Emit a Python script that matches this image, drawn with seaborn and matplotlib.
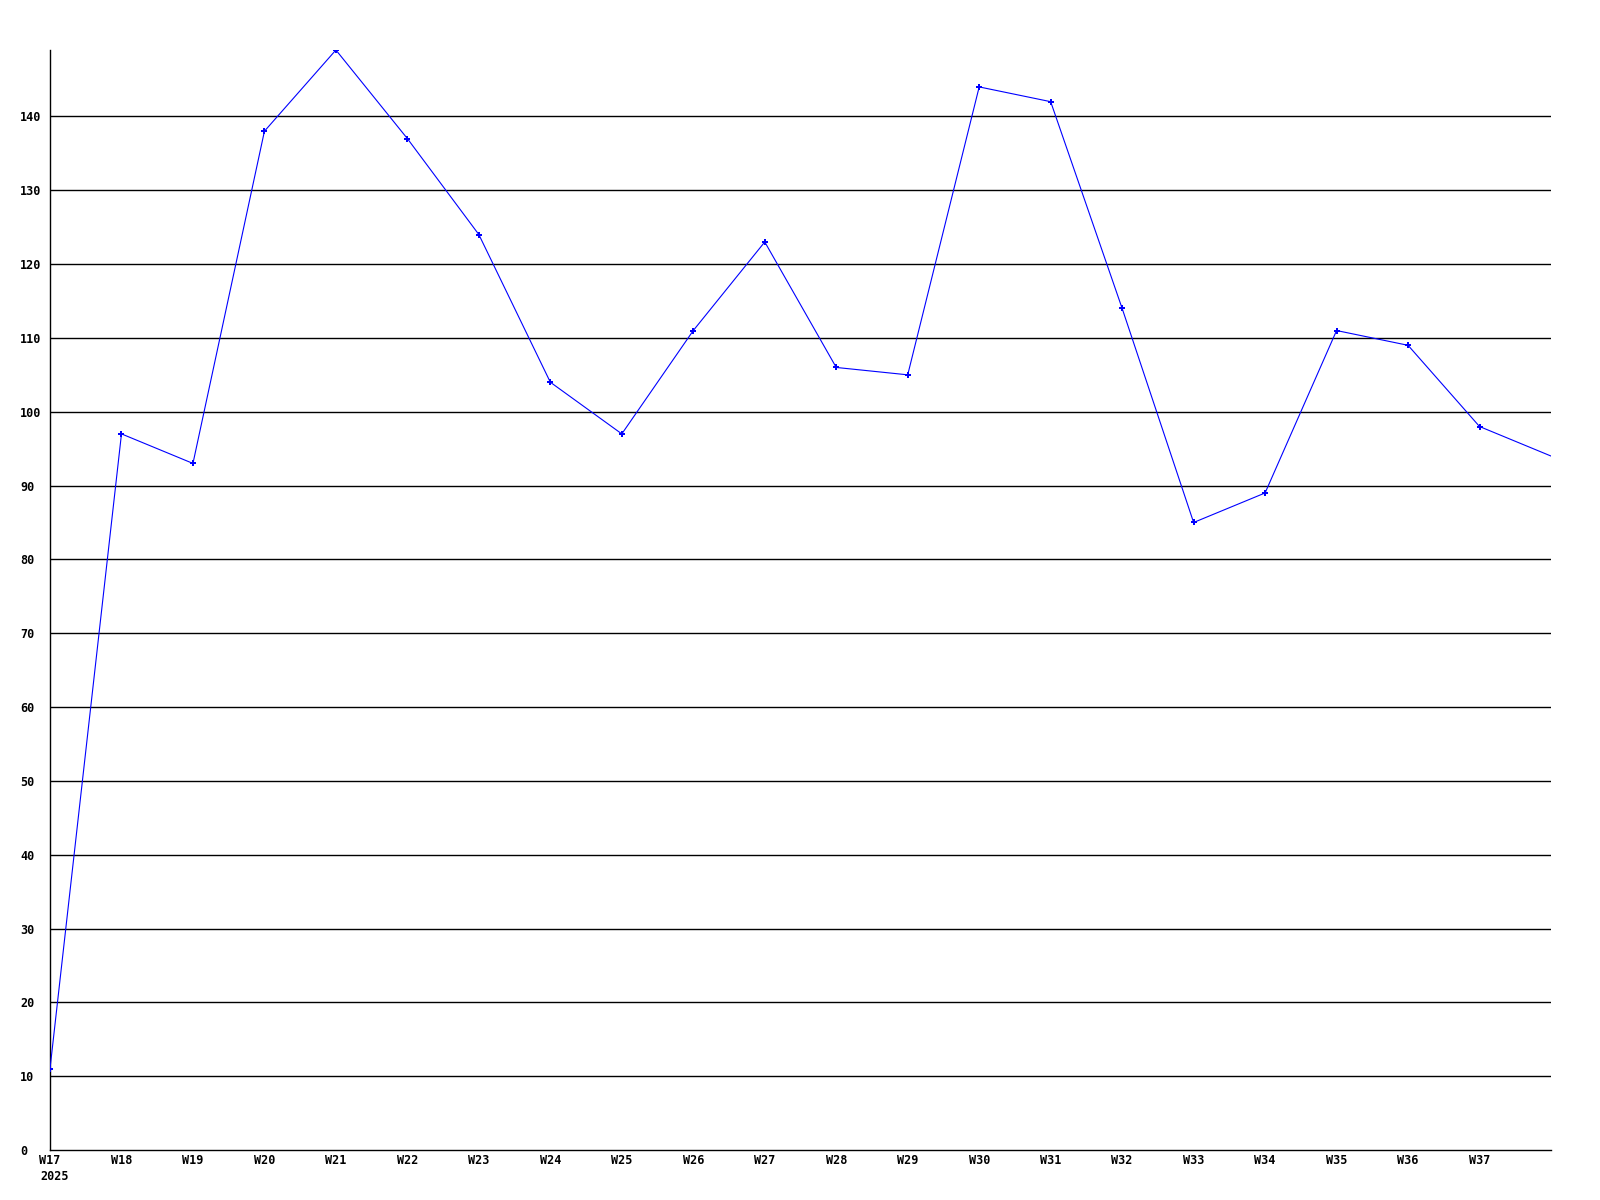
import matplotlib
matplotlib.use("Agg")
import matplotlib.pyplot as plt
import seaborn as sns
import pandas as pd

weeks = ["W17", "W18", "W19", "W20", "W21", "W22", "W23", "W24", "W25", "W26", "W27",
         "W28", "W29", "W30", "W31", "W32", "W33", "W34", "W35", "W36", "W37", "W38"]
values = [11, 97, 93, 138, 149, 137, 124, 104, 97, 111, 123,
          106, 105, 144, 142, 114, 85, 89, 111, 109, 98, 94]
tick_labels = ["W17", "W18", "W19", "W20", "W21", "W22", "W23", "W24", "W25", "W26", "W27",
               "W28", "W29", "W30", "W31", "W32", "W33", "W34", "W35", "W36", "W37"]
year_label = "2025"
y_ticks = [0, 10, 20, 30, 40, 50, 60, 70, 80, 90, 100, 110, 120, 130, 140]

df = pd.DataFrame({"idx": list(range(len(weeks))), "week": weeks, "value": values})

sns.set_theme(style="white")
plt.rcParams['font.family'] = ['DejaVu Sans Mono', 'DejaVu Sans']
plt.rcParams['text.color'] = 'black'
plt.rcParams['xtick.color'] = 'black'
plt.rcParams['ytick.color'] = 'black'

fig = plt.figure(figsize=(16, 12), dpi=100)
ax = fig.add_axes([50 / 1600, 1 - 1150 / 1200, 1501 / 1600, 1100 / 1200])

sns.lineplot(data=df, x="idx", y="value", ax=ax, color="#0000ff", linewidth=0.8,
             marker="P", markersize=4, markeredgewidth=0, markevery=list(range(len(weeks) - 1)),
             zorder=3)

ax.set_xlim(0, len(weeks) - 1)
ax.set_ylim(0, 149)
ax.set_xticks(list(range(len(tick_labels))))
ax.set_xticklabels(tick_labels, fontsize=8.5, fontweight="bold", color="black")
ax.set_yticks(y_ticks)
ax.set_yticklabels([str(v) for v in y_ticks], fontsize=8.5, fontweight="bold", color="black")
for lbl in ax.get_yticklabels():
    lbl.set_horizontalalignment("left")
ax.tick_params(axis="y", length=0, pad=21.6)
ax.tick_params(axis="x", length=0, pad=3)

ax.annotate(year_label, xy=(0, 0), xycoords=("data", "axes fraction"),
            xytext=(-10, -26.5), textcoords="offset pixels",
            ha="left", va="center", fontsize=8.5, fontweight="bold", color="black")

for v in y_ticks[1:]:
    ax.axhline(v, color="black", linewidth=1.0, zorder=1)

ax.set_xlabel("")
ax.set_ylabel("")
for s in ["top", "right"]:
    ax.spines[s].set_visible(False)
for s in ["left", "bottom"]:
    ax.spines[s].set_color("black")
    ax.spines[s].set_linewidth(1.0)

fig.savefig("out.png", dpi=100, facecolor="white")
